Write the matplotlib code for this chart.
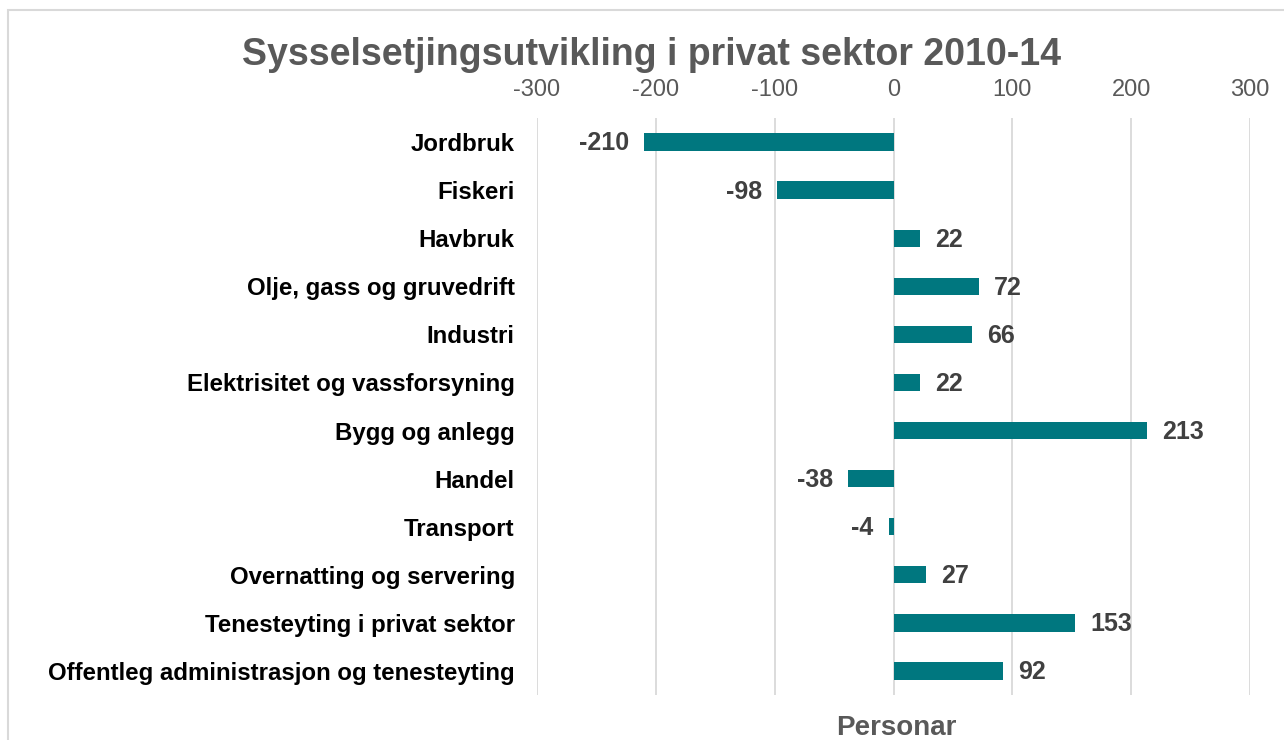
import matplotlib
matplotlib.use("Agg")
import matplotlib.pyplot as plt
from matplotlib.patches import Rectangle

categories = ["Jordbruk", "Fiskeri", "Havbruk", "Olje, gass og gruvedrift", "Industri",
              "Elektrisitet og vassforsyning", "Bygg og anlegg", "Handel", "Transport",
              "Overnatting og servering", "Tenesteyting i privat sektor",
              "Offentleg administrasjon og tenesteyting"]
values = [-210, -98, 22, 72, 66, 22, 213, -38, -4, 27, 153, 92]
ticks = [-300, -200, -100, 0, 100, 200, 300]

plt.rcParams['font.family'] = ['Liberation Sans', 'DejaVu Sans']

fig = plt.figure(figsize=(12.84, 7.4), dpi=100)
ax = fig.add_axes([537/1284, 1-695/740, (1250-537)/1284, (695-118)/740])

bar_color = "#00777F"
y = list(range(len(categories)))
ax.barh(y, values, height=0.36, color=bar_color, zorder=3)
ax.set_ylim(len(categories)-0.5, -0.5)
ax.set_xlim(-300, 300)
ax.set_xticks(ticks)
ax.set_xticklabels([str(t) for t in ticks])
ax.xaxis.tick_top()
ax.tick_params(axis='x', length=0, labelsize=17, labelcolor="#595959", pad=12)
ax.set_yticks(y)
ax.set_yticklabels(categories, fontsize=17.3, fontweight='bold', color='black')
ax.tick_params(axis='y', length=0, pad=16)
ax.grid(axis='x', color="#D9D9D9", linewidth=1.3, zorder=0)
for s in ax.spines.values():
    s.set_visible(False)

for yi, v in zip(y, values):
    if v < 0:
        ax.annotate(str(v), (v, yi), xytext=(-11, -1), textcoords='offset points',
                    ha='right', va='center', fontsize=18, fontweight='bold', color="#404040")
    else:
        ax.annotate(str(v), (v, yi), xytext=(11, -1), textcoords='offset points',
                    ha='left', va='center', fontsize=18, fontweight='bold', color="#404040")

fig.text(652/1284, 1-55/740, "Sysselsetjingsutvikling i privat sektor 2010-14",
         ha='center', va='center', fontsize=27, fontweight='bold', color="#595959")
fig.text(896/1284, 1-728/740, "Personar", ha='center', va='center',
         fontsize=20, fontweight='bold', color="#595959")

fig.patches.append(Rectangle((8/1284, -0.1), (1300-8)/1284, 1.1-10/740,
                             transform=fig.transFigure, fill=False,
                             edgecolor="#D9D9D9", linewidth=1.5))

fig.savefig("out.png", dpi=100)
